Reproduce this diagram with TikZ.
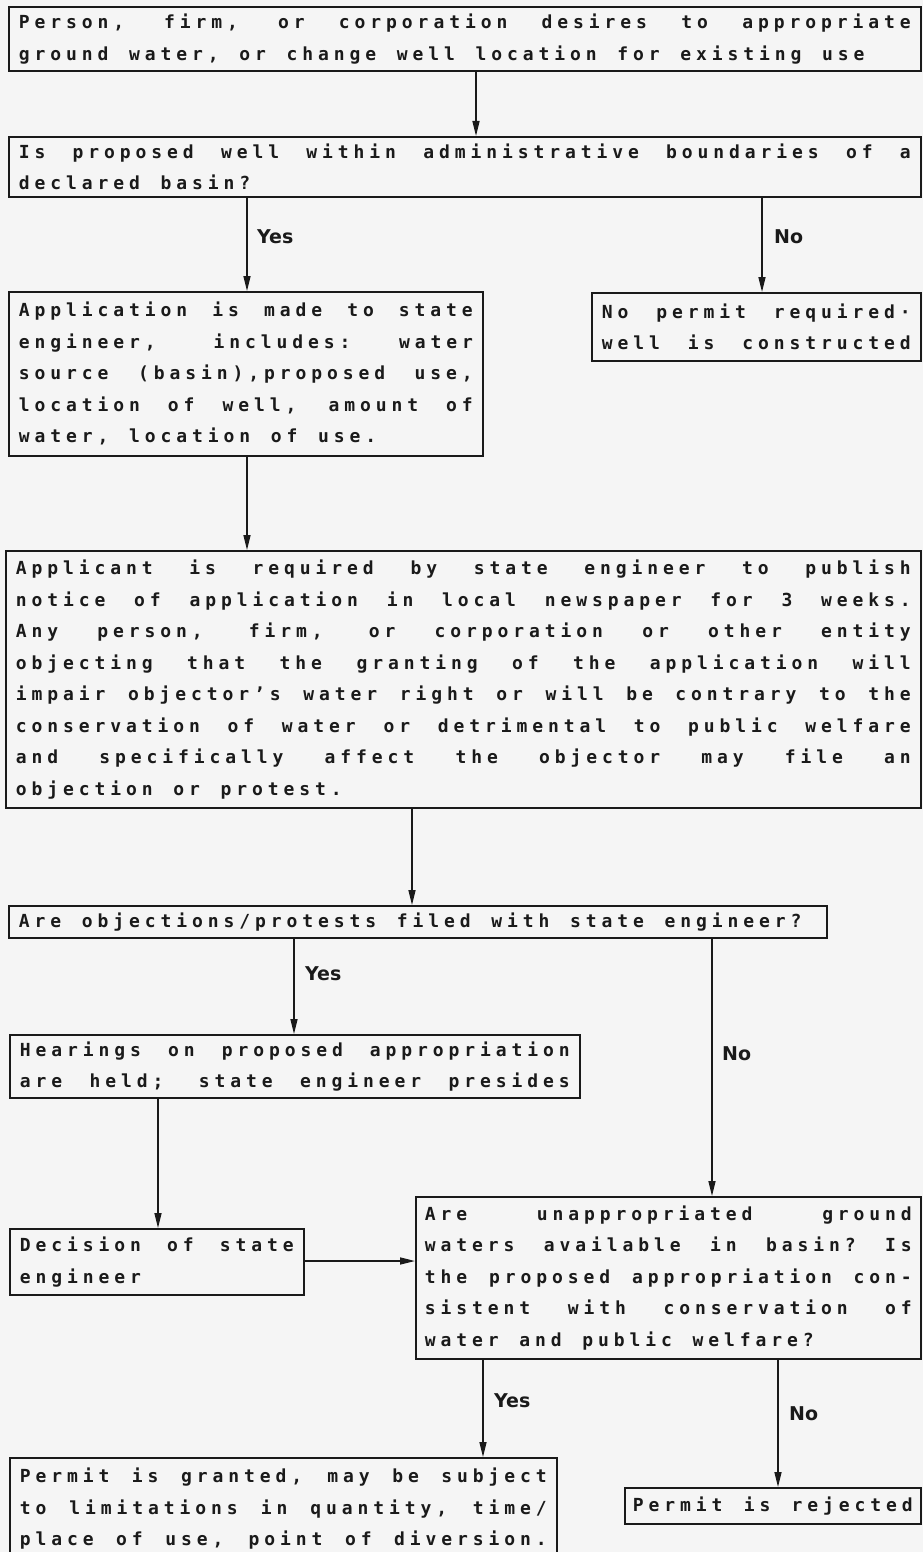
\documentclass[tikz,border=0pt]{standalone}
\usepackage{fontspec}
\usetikzlibrary{arrows.meta}
\newfontfamily\dotfont[LetterSpace=27.3]{DejaVu Sans Mono Bold}
\newfontfamily\lblfont{DejaVu Sans Bold}
\definecolor{paper}{HTML}{F5F5F5}
\definecolor{ink}{HTML}{1A1A1A}
\newcommand\JL[1]{\makebox[\hsize][s]{\spaceskip=12pt plus 1fil\xspaceskip=12pt plus 1fil\relax #1}}
\newcommand\PL[1]{\makebox[\hsize][l]{\spaceskip=20.66pt\xspaceskip=20.66pt\relax #1}}
\tikzset{
  box/.style={draw=ink, text=ink, line width=1.7pt, anchor=north west, inner xsep=10pt, inner ysep=0pt,
              align=left, font={\fontsize{18}{31.5}\dotfont}},
  arr/.style={draw=ink, line width=1.5pt, -{Triangle[length=15pt,width=7pt]}},
  lbl/.style={text=ink, anchor=west, inner sep=0pt, font={\fontsize{19}{21}\lblfont}}
}
\begin{document}
\begin{tikzpicture}[x=1pt,y=-1pt]
\fill[paper] (0,0) rectangle (923,1552);
\useasboundingbox (0,0) rectangle (923,1552);

\node[box, minimum width=912pt, minimum height=64pt, text width=892pt] (B1) at (8,6)
  {\JL{Person, firm, or corporation desires to appropriate}\\
   \PL{ground water, or change well location for existing use}};

\node[box, minimum width=912pt, minimum height=60pt, text width=892pt] (B2) at (8,136)
  {\JL{Is proposed well within administrative boundaries of a}\\
   \PL{declared basin?}};

\node[box, minimum width=474pt, minimum height=164pt, text width=454pt] (B3) at (8,291)
  {\JL{Application is made to state}\\
   \JL{engineer, includes: water}\\
   \JL{source (basin),proposed use,}\\
   \JL{location of well, amount of}\\
   \PL{water, location of use.}};

\node[box, minimum width=329pt, minimum height=68pt, text width=309pt] (B4) at (591,292)
  {\JL{No permit required·}\\
   \JL{well is constructed}};

\node[box, minimum width=915pt, minimum height=257pt, text width=895pt] (B5) at (5,550)
  {\JL{Applicant is required by state engineer to publish}\\
   \JL{notice of application in local newspaper for 3 weeks.}\\
   \JL{Any person, firm, or corporation or other entity}\\
   \JL{objecting that the granting of the application will}\\
   \JL{impair objector’s water right or will be contrary to the}\\
   \JL{conservation of water or detrimental to public welfare}\\
   \JL{and specifically affect the objector may file an}\\
   \PL{objection or protest.}};

\node[box, minimum width=818pt, minimum height=32pt, text width=798pt] (B6) at (8,905)
  {\PL{Are objections/protests filed with state engineer?}};

\node[box, minimum width=570pt, minimum height=63pt, text width=550pt] (B7) at (9,1034)
  {\JL{Hearings on proposed appropriation}\\
   \JL{are held; state engineer presides}};

\node[box, minimum width=294pt, minimum height=66pt, text width=274pt] (B8) at (9,1228)
  {\JL{Decision of state}\\
   \PL{engineer}};

\node[box, minimum width=505pt, minimum height=162pt, text width=487pt, inner xsep=9pt] (B9) at (415,1196)
  {\JL{Are unappropriated ground}\\
   \JL{waters available in basin? Is}\\
   \JL{the proposed appropriation con-}\\
   \JL{sistent with conservation of}\\
   \PL{water and public welfare?}};

\node[box, minimum width=547pt, minimum height=102pt, text width=527pt] (B10) at (9,1457)
  {\JL{Permit is granted, may be subject}\\
   \JL{to limitations in quantity, time/}\\
   \JL{place of use, point of diversion.}};

\node[box, minimum width=296pt, minimum height=36pt, text width=280pt, inner xsep=8pt] (B11) at (624,1487)
  {\JL{Permit is rejected}};

% x / y guide coordinates for connectors
\coordinate (X476) at (476,0);
\coordinate (X247) at (247,0);
\coordinate (X762) at (762,0);
\coordinate (X412) at (412,0);
\coordinate (X294) at (294,0);
\coordinate (X712) at (712,0);
\coordinate (X158) at (158,0);
\coordinate (X483) at (483,0);
\coordinate (X778) at (778,0);
\coordinate (Y1261) at (0,1261);

\draw[arr] (B1.south -| X476) -- (B2.north -| X476);
\draw[arr] (B2.south -| X247) -- (B3.north -| X247);
\draw[arr] (B2.south -| X762) -- (B4.north -| X762);
\draw[arr] (B3.south -| X247) -- (B5.north -| X247);
\draw[arr] (B5.south -| X412) -- (B6.north -| X412);
\draw[arr] (B6.south -| X294) -- (B7.north -| X294);
\draw[arr] (B6.south -| X712) -- (B9.north -| X712);
\draw[arr] (B7.south -| X158) -- (B8.north -| X158);
\draw[arr] (B8.east |- Y1261) -- (B9.west |- Y1261);
\draw[arr] (B9.south -| X483) -- (B10.north -| X483);
\draw[arr] (B9.south -| X778) -- (B11.north -| X778);

\node[lbl] (L1) at (257,237) {Yes};
\node[lbl] (L2) at (774,237) {No};
\node[lbl] (L3) at (305,974) {Yes};
\node[lbl] (L4) at (722,1054) {No};
\node[lbl] (L5) at (494,1401) {Yes};
\node[lbl] (L6) at (789,1414) {No};
\end{tikzpicture}
\end{document}
